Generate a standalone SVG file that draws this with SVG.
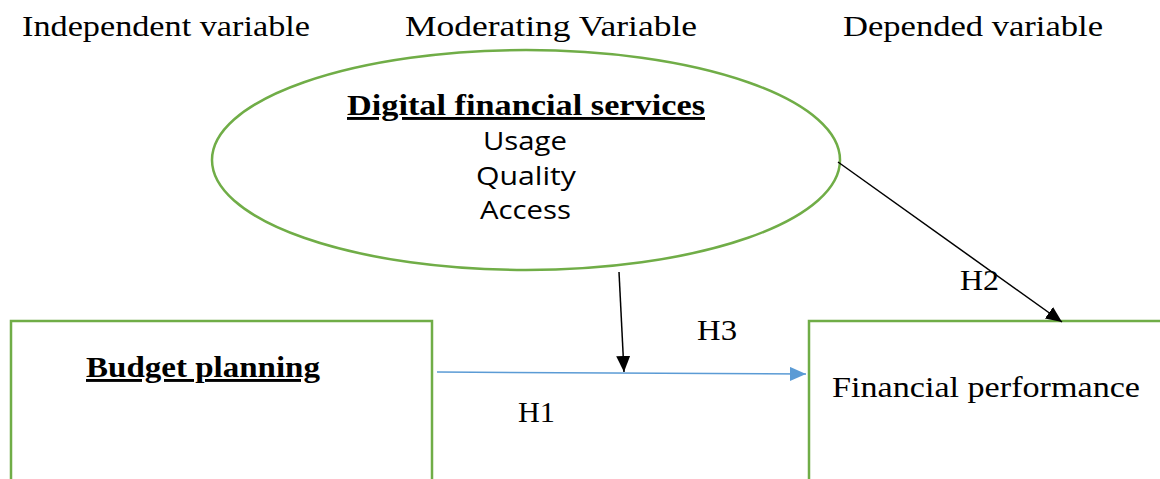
<svg xmlns="http://www.w3.org/2000/svg" width="1160" height="479" viewBox="0 0 1160 479">
  <style>
    .hdr { font-family: "Liberation Serif", serif; font-size: 30px; fill: #000; }
    .title { font-family: "Liberation Serif", serif; font-size: 29px; font-weight: bold; text-decoration: underline; fill: #000; }
    .item { font-family: "Open Sans", "Liberation Sans", sans-serif; font-size: 26px; fill: #000; }
    .lbl { font-family: "Liberation Serif", serif; font-size: 30px; fill: #000; }
    .node { fill: #fff; stroke: #70ad47; stroke-width: 2.5; }
  </style>
  <defs>
    <marker id="arrBlue" markerWidth="16" markerHeight="14" refX="16" refY="7" orient="auto" markerUnits="userSpaceOnUse" viewBox="0 0 16 14">
      <path d="M0,0 L16,7 L0,14 Z" fill="#5b9bd5"/>
    </marker>
    <marker id="arrBlack" markerWidth="16" markerHeight="14" refX="16" refY="7" orient="auto" markerUnits="userSpaceOnUse" viewBox="0 0 16 14">
      <path d="M0,0 L16,7 L0,14 Z" fill="#000"/>
    </marker>
  </defs>

  <rect width="1160" height="479" fill="#fff"/>

  <!-- column headings -->
  <text class="hdr" x="22" y="36" textLength="288" lengthAdjust="spacingAndGlyphs">Independent variable</text>
  <text class="hdr" x="405" y="36" textLength="292" lengthAdjust="spacingAndGlyphs">Moderating Variable</text>
  <text class="hdr" x="843" y="36" textLength="260" lengthAdjust="spacingAndGlyphs">Depended variable</text>

  <g id="moderator">
    <ellipse class="node" cx="526" cy="160" rx="314" ry="110"/>
    <text class="title" x="347" y="115" textLength="358" lengthAdjust="spacingAndGlyphs">Digital financial services</text>
    <text class="item" x="483" y="150" textLength="84" lengthAdjust="spacingAndGlyphs">Usage</text>
    <text class="item" x="476" y="185" textLength="100" lengthAdjust="spacingAndGlyphs">Quality</text>
    <text class="item" x="480" y="219" textLength="91" lengthAdjust="spacingAndGlyphs">Access</text>
  </g>

  <g id="budget-planning">
    <rect class="node" x="11" y="321" width="421" height="170"/>
    <text class="title" x="86" y="377" textLength="234" lengthAdjust="spacingAndGlyphs">Budget planning</text>
  </g>

  <g id="financial-performance">
    <rect class="node" x="809" y="321" width="370" height="170"/>
    <text class="lbl" x="832" y="397" textLength="308" lengthAdjust="spacingAndGlyphs">Financial performance</text>
  </g>

  <g id="connectors">
    <line x1="437" y1="372" x2="806" y2="374" stroke="#5b9bd5" stroke-width="1.5" marker-end="url(#arrBlue)"/>
    <line x1="619" y1="272" x2="624" y2="372" stroke="#000" stroke-width="1.5" marker-end="url(#arrBlack)"/>
    <line x1="838" y1="162" x2="1062" y2="322" stroke="#000" stroke-width="1.5" marker-end="url(#arrBlack)"/>
    <text class="lbl" x="697" y="340" textLength="40" lengthAdjust="spacingAndGlyphs">H3</text>
    <text class="lbl" x="518" y="422" textLength="37" lengthAdjust="spacingAndGlyphs">H1</text>
    <text class="lbl" x="960" y="290" textLength="39" lengthAdjust="spacingAndGlyphs">H2</text>
  </g>
</svg>
